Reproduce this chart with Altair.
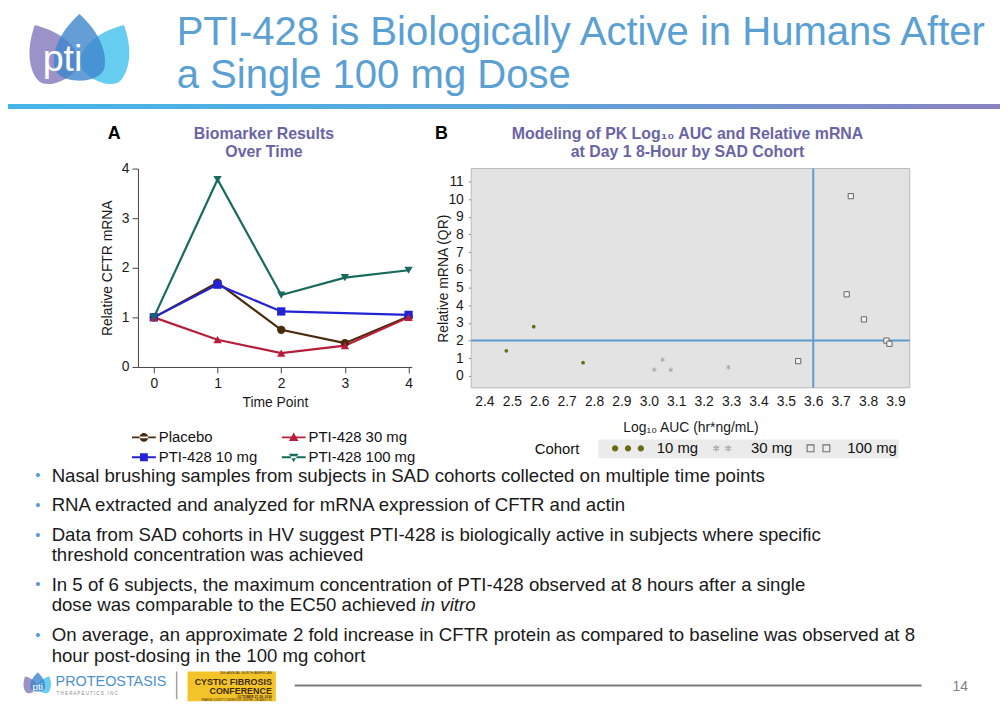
import math
import altair as alt
import pandas as pd

# ------------------------------------------------------------------ data
time_points = [0, 1, 2, 3, 4]
placebo = [1.00, 1.70, 0.75, 0.48, 1.02]
pti428_10mg = [1.00, 1.66, 1.12, None, 1.05]
pti428_30mg = [1.00, 0.55, 0.28, 0.43, 1.00]
pti428_100mg = [1.00, 3.78, 1.45, 1.80, 1.95]
series_names = ["Placebo", "PTI-428 10 mg", "PTI-428 30 mg", "PTI-428 100 mg"]
a_ticks = [0, 1, 2, 3, 4]

cohort_names = ["10 mg", "30 mg", "100 mg"]
auc_10mg = [2.48, 2.58, 2.76]
mrna_10mg = [1.42, 2.79, 0.75]
auc_30mg = [3.02, 3.05, 3.08, 3.29]
mrna_30mg = [0.36, 0.92, 0.34, 0.49]
auc_100mg = [3.545, 3.722, 3.737, 3.785, 3.867, 3.878]
mrna_100mg = [0.84, 4.62, 10.17, 3.20, 2.00, 1.82]
auc_threshold = [3.6]
mrna_threshold = [2.0]
b_x_ticks = [2.4, 2.5, 2.6, 2.7, 2.8, 2.9, 3.0, 3.1, 3.2, 3.3, 3.4, 3.5, 3.6, 3.7, 3.8, 3.9]
b_y_ticks = [0, 1, 2, 3, 4, 5, 6, 7, 8, 9, 10, 11]

title_lines = ["PTI-428 is Biologically Active in Humans After", "a Single 100 mg Dose"]
chart_a_title = ["Biomarker Results", "Over Time"]
chart_b_title = ["Modeling of PK Log\u2081\u2080 AUC and Relative mRNA", "at Day 1 8-Hour by SAD Cohort"]
bullet_points = [
    ["Nasal brushing samples from subjects in SAD cohorts collected on multiple time points"],
    ["RNA extracted and analyzed for mRNA expression of CFTR and actin"],
    ["Data from SAD cohorts in HV suggest PTI-428 is biologically active in subjects where specific",
     "threshold concentration was achieved"],
    ["In 5 of 6 subjects, the maximum concentration of PTI-428 observed at 8 hours after a single",
     "dose was comparable to the EC50 achieved"],
    ["On average, an approximate 2 fold increase in CFTR protein as compared to baseline was observed at 8",
     "hour post-dosing in the 100 mg cohort"],
]
italic_phrase = "in vitro"

# ------------------------------------------------------------------ layout helpers
FONT = "Liberation Sans"
W, H = 1000, 712


def cx(p):
    return p - 8


ONE = pd.DataFrame({"k": [0]})


def text_layer(s, x, y, size=14, color="#111111", weight="normal", align="left",
               baseline="middle", style="normal", angle=None, line_height=None):
    kw = dict(text=s, fontSize=size, color=color, fontWeight=weight, align=align,
              baseline=baseline, fontStyle=style, font=FONT)
    if angle is not None:
        kw["angle"] = angle
    if line_height is not None:
        kw["lineHeight"] = line_height
    return alt.Chart(ONE).mark_text(**kw).encode(x=alt.value(cx(x)), y=alt.value(cx(y)))


def rect_layer(x0, y0, x1, y1, **mk):
    return alt.Chart(ONE).mark_rect(**mk).encode(
        x=alt.value(cx(x0)), x2=alt.value(cx(x1)), y=alt.value(cx(y0)), y2=alt.value(cx(y1)))


def rule_layer(x0, y0, x1, y1, **mk):
    return alt.Chart(ONE).mark_rule(**mk).encode(
        x=alt.value(cx(x0)), x2=alt.value(cx(x1)), y=alt.value(cx(y0)), y2=alt.value(cx(y1)))


PETAL = ("M0,-1C0.42,-0.62 0.72,-0.12 0.66,0.36C0.6,0.86 -0.6,0.86 -0.66,0.36"
         "C-0.72,-0.12 -0.42,-0.62 0,-1Z")


def petal(x, y, size, color, angle=None, opacity=0.85):
    kw = dict(shape=PETAL, filled=True, size=size, color=color, opacity=opacity, strokeWidth=0)
    if angle is not None:
        kw["angle"] = angle
    return alt.Chart(ONE).mark_point(**kw).encode(x=alt.value(cx(x)), y=alt.value(cx(y)))


def circ(x, y, r):
    return f"M{x - r:.3f},{y:.3f}A{r},{r} 0 1,0 {x + r:.3f},{y:.3f}A{r},{r} 0 1,0 {x - r:.3f},{y:.3f}Z"


def bar(xc, yc, ang, L, t):
    a = math.radians(ang)
    dx, dy = math.cos(a), math.sin(a)
    px, py = -dy, dx
    pts = [(xc + L * dx + t * px, yc + L * dy + t * py), (xc + L * dx - t * px, yc + L * dy - t * py),
           (xc - L * dx - t * px, yc - L * dy - t * py), (xc - L * dx + t * px, yc - L * dy + t * py)]
    return "M" + "L".join(f"{p[0]:.3f},{p[1]:.3f}" for p in pts) + "Z"


def ring(xc, yc, h, t):
    outer = f"M{xc - h:.3f},{yc - h:.3f}H{xc + h:.3f}V{yc + h:.3f}H{xc - h:.3f}Z"
    inner = (f"M{xc - h + t:.3f},{yc - h + t:.3f}V{yc + h - t:.3f}H{xc + h - t:.3f}"
             f"V{yc - h + t:.3f}Z")
    return outer + inner


# ------------------------------------------------------------------ header
header = [
    petal(52, 54, 5200, "#8a7fc0", angle=332),
    petal(108, 54, 5200, "#4cc4ef", angle=28),
    petal(80, 50, 6000, "#3f86cc", opacity=0.8),
    text_layer("pti", 63, 58, size=38, color="white", align="center"),
    text_layer(title_lines, 178, 42.5, size=40.4, color="#5aa0d3", baseline="alphabetic", line_height=43.5),
    alt.Chart(ONE).mark_rect(
        color=alt.LinearGradient(gradient="linear",
                                 stops=[alt.GradientStop(color="#45b6e8", offset=0),
                                        alt.GradientStop(color="#5aa6dc", offset=0.5),
                                        alt.GradientStop(color="#8b82c3", offset=1)],
                                 x1=0, x2=1, y1=0, y2=0)
    ).encode(x=alt.value(-8), x2=alt.value(W), y=alt.value(cx(102)), y2=alt.value(cx(107))),
]

# ------------------------------------------------------------------ chart A
A_X0, A_X1, A_Y0, A_Y1 = 139, 415, 167, 367
a_colors = ["#4a2a0c", "#2323d6", "#b81e3a", "#176a5c"]
a_shapes = ["circle", "square", "triangle-up", "triangle-down"]

rows = []
for name, vals in zip(["Placebo", "PTI-428 10 mg", "PTI-428 30 mg", "PTI-428 100 mg"],
                      [placebo, pti428_10mg, pti428_30mg, pti428_100mg]):
    for t, v in zip(time_points, vals):
        if v is not None:
            rows.append({"time": t, "value": v, "series": name})
df_a = pd.DataFrame(rows)

a_x = alt.X("time:Q",
            scale=alt.Scale(domain=[-0.25, 4.05], range=[cx(A_X0), cx(A_X1)], nice=False, zero=False),
            axis=alt.Axis(orient="bottom", offset=cx(A_Y1) - H, values=a_ticks, format="d",
                          title="Time Point", labelFontSize=14, titleFontSize=14,
                          titleFontWeight="normal", labelColor="#1a1a1a", titleColor="#1a1a1a",
                          domainColor="#444444", tickColor="#444444", tickSize=6, labelPadding=4,
                          titlePadding=5, grid=False))
a_y = alt.Y("value:Q",
            scale=alt.Scale(domain=[0, 4], range=[cx(A_Y1), cx(A_Y0)], nice=False, zero=False),
            axis=alt.Axis(orient="left", offset=-cx(A_X0), values=a_ticks, format="d",
                          title="Relative CFTR mRNA", labelFontSize=14, titleFontSize=14,
                          titleFontWeight="normal", labelColor="#1a1a1a", titleColor="#1a1a1a",
                          domainColor="#444444", tickColor="#444444", tickSize=6, labelPadding=3,
                          titlePadding=7, grid=False))
a_color = alt.Color("series:N", scale=alt.Scale(domain=series_names, range=a_colors), legend=None)

a_lines = alt.Chart(df_a).mark_line(strokeWidth=2.2).encode(x=a_x, y=a_y, color=a_color)
a_points = alt.Chart(df_a).mark_point(filled=True, opacity=1, size=70).encode(
    x=a_x, y=a_y, color=a_color,
    shape=alt.Shape("series:N", scale=alt.Scale(domain=series_names, range=a_shapes), legend=None))
chart_a = alt.layer(a_lines, a_points)

LINE = "M-1,-0.08H1V0.08H-1Z"
a_leg_shapes = [LINE + circ(0, 0, 0.36), LINE + "M-0.33,-0.33H0.33V0.33H-0.33Z",
                LINE + "M0,-0.42L0.4,0.3L-0.4,0.3Z", LINE + "M0,0.42L0.4,-0.3L-0.4,-0.3Z"]
a_legend = alt.Legend(orient="none", legendX=cx(133), legendY=cx(426), columns=2, title=None,
                      labelFontSize=15, labelColor="#111111", symbolSize=576, labelOffset=3,
                      columnPadding=24, rowPadding=-5, padding=0, symbolStrokeWidth=0)
a_leg = alt.Chart(pd.DataFrame({"series": series_names})).mark_point(
    filled=True, opacity=1, size=576).encode(
    x=alt.value(-60), y=alt.value(-60),
    color=alt.Color("series:N", scale=alt.Scale(domain=series_names, range=a_colors), legend=a_legend),
    shape=alt.Shape("series:N", scale=alt.Scale(domain=series_names, range=a_leg_shapes), legend=a_legend))

a_text = [
    text_layer("A", 115, 132, size=18, weight="bold", align="center", color="#000000"),
    text_layer(chart_a_title, 266, 137.5, size=16, weight="bold", align="center", color="#6a64a6",
               baseline="alphabetic", line_height=18),
]

# ------------------------------------------------------------------ chart B
B_X0, B_X1, B_Y0, B_Y1 = 475, 917, 167, 388
b_x = alt.X("auc:Q",
            scale=alt.Scale(domain=[2.352, 3.952], range=[cx(B_X0), cx(B_X1)], nice=False, zero=False),
            axis=alt.Axis(orient="bottom", offset=cx(B_Y1) - H, values=b_x_ticks, format=".1f",
                          title="Log\u2081\u2080 AUC (hr*ng/mL)", labelFontSize=14, titleFontSize=14,
                          titleFontWeight="normal", labelColor="#1a1a1a", titleColor="#1a1a1a",
                          domain=False, ticks=False, labelPadding=7, titlePadding=12, grid=False))
b_y = alt.Y("mrna:Q",
            scale=alt.Scale(domain=[-0.67, 11.73], range=[cx(B_Y1), cx(B_Y0)], nice=False, zero=False),
            axis=alt.Axis(orient="left", offset=-cx(B_X0), values=b_y_ticks, format="d",
                          title="Relative mRNA (QR)", labelFontSize=14, titleFontSize=14,
                          titleFontWeight="normal", labelColor="#1a1a1a", titleColor="#1a1a1a",
                          domain=False, tickColor="#888888", tickSize=3, labelPadding=5,
                          titlePadding=-3, grid=False))

b_panel = rect_layer(B_X0, B_Y0, B_X1, B_Y1, fill="#e3e3e3", stroke="#b8b8b8", strokeWidth=1)
b_vrule = alt.Chart(pd.DataFrame({"auc": auc_threshold})).mark_rule(
    color="#5b9bcf", strokeWidth=2).encode(x=b_x, y=alt.value(cx(B_Y0)), y2=alt.value(cx(B_Y1)))
b_hrule = alt.Chart(pd.DataFrame({"mrna": mrna_threshold})).mark_rule(
    color="#5b9bcf", strokeWidth=2).encode(y=b_y, x=alt.value(cx(B_X0)), x2=alt.value(cx(B_X1)))
ASTER = "M0,-1V1M-0.87,-0.5L0.87,0.5M-0.87,0.5L0.87,-0.5"
b_p10 = alt.Chart(pd.DataFrame({"auc": auc_10mg, "mrna": mrna_10mg})).mark_point(
    filled=True, color="#6b6a12", size=14, opacity=1).encode(x=b_x, y=b_y)
b_p30 = alt.Chart(pd.DataFrame({"auc": auc_30mg, "mrna": mrna_30mg})).mark_point(
    shape=ASTER, filled=False, color="#a6a6a6", strokeWidth=1, size=22, opacity=1).encode(x=b_x, y=b_y)
b_p100 = alt.Chart(pd.DataFrame({"auc": auc_100mg, "mrna": mrna_100mg})).mark_point(
    shape="square", filled=True, fill="#f2f2f2", stroke="#666666", strokeWidth=1, size=28,
    opacity=1).encode(x=b_x, y=b_y)
chart_b = alt.layer(b_panel, b_vrule, b_hrule, b_p10, b_p30, b_p100)

# legend symbols: drawn in pixel units, normalised by the half symbol size (8 px)
HS = 8.0
b_leg_shapes = [
    " ".join(circ(x / HS, 0, 3.2 / HS) for x in (-13.0, 0.0, 13.0)),
    " ".join(bar(c / HS, 0, ang, 3.4 / HS, 0.6 / HS) for c in (-6.0, 6.0) for ang in (90, 30, 150)),
    ring(-8.0 / HS, 0, 4.0 / HS, 1.1 / HS) + ring(8.0 / HS, 0, 4.0 / HS, 1.1 / HS),
]
b_leg_colors = ["#6b6a12", "#a9a9a9", "#6f6f6f"]
b_legend = alt.Legend(orient="none", legendX=cx(625), legendY=cx(441), direction="horizontal",
                      title=None, labelFontSize=15, labelColor="#111111", symbolSize=256,
                      labelOffset=21, columnPadding=14, padding=0, symbolStrokeWidth=0)
b_leg = alt.Chart(pd.DataFrame({"cohort": cohort_names})).mark_point(
    filled=True, opacity=1, size=256).encode(
    x=alt.value(-60), y=alt.value(-60),
    color=alt.Color("cohort:N", scale=alt.Scale(domain=cohort_names, range=b_leg_colors), legend=b_legend),
    shape=alt.Shape("cohort:N", scale=alt.Scale(domain=cohort_names, range=b_leg_shapes), legend=b_legend))

b_text = [
    text_layer("B", 445, 132, size=18, weight="bold", align="center", color="#000000"),
    text_layer(chart_b_title, 693, 137.5, size=16, weight="bold", align="center", color="#6a64a6",
               baseline="alphabetic", line_height=18),
    rect_layer(603, 440, 906, 459, fill="#ebebeb"),
    text_layer("Cohort", 539, 450, size=15),
]

# ------------------------------------------------------------------ bullets
BUL_SIZE, BUL_LH = 18.8, 20.5
bullet_y = [476, 506, 536, 586, 637]
bullets = []
for lines, yc in zip(bullet_points, bullet_y):
    bullets.append(text_layer("\u2022", 38, yc, size=15, color="#5a9bd5", align="center"))
    bullets.append(text_layer(lines, 52, yc + 6.5, size=BUL_SIZE, color="#1a1a1a",
                              baseline="alphabetic", line_height=BUL_LH))
bullets.append(text_layer(italic_phrase, 424, 586 + BUL_LH + 6.5, size=BUL_SIZE, color="#1a1a1a",
                          baseline="alphabetic", style="italic"))

# ------------------------------------------------------------------ footer
footer = [
    petal(30, 688, 420, "#8a7fc0", angle=332),
    petal(45, 688, 420, "#4cc4ef", angle=28),
    petal(38, 686, 500, "#3f86cc", opacity=0.8),
    text_layer("pti", 38, 690, size=10, color="white", align="center"),
    text_layer("PROTEOSTASIS", 56, 685, size=14.5, color="#4b92cf"),
    text_layer("T H E R A P E U T I C S ,   I N C .", 57, 697, size=4.5, color="#8a8a8a"),
    rule_layer(178, 674, 178, 702, color="#a0a0a0", strokeWidth=1.5),
    rect_layer(189, 674, 278, 704, fill="#f3c42a"),
    text_layer("30th ANNUAL NORTH AMERICAN", 274, 676, size=3.4, color="#3d2b14", align="right"),
    text_layer("CYSTIC FIBROSIS", 274, 684.3, size=9, weight="bold", color="#3d2b14", align="right"),
    text_layer("CONFERENCE", 274, 693.5, size=9, weight="bold", color="#3d2b14", align="right"),
    text_layer("OCTOBER 27-29, 2016", 274, 699.9, size=3.3, weight="bold", color="#3d2b14", align="right"),
    text_layer("ORANGE COUNTY CONVENTION CENTER  |  ORLANDO, FL", 274, 703, size=2.6, color="#3d2b14",
               align="right"),
    rule_layer(297, 688, 929, 688, color="#7c7c7c", strokeWidth=2),
    text_layer("14", 968, 690, size=14, color="#808080", align="center"),
]

layers = header + [chart_a, a_leg] + a_text + [chart_b] + b_text + [b_leg] + bullets + footer

chart = alt.layer(*layers).resolve_scale(
    x="independent", y="independent", color="independent", shape="independent"
).resolve_axis(x="independent", y="independent").resolve_legend(
    color="independent", shape="independent"
).properties(
    width=W, height=H, padding=0, autosize=alt.AutoSizeParams(type="none"), background="white"
).configure(font=FONT).configure_view(stroke=None)

chart.save("out.html", embed_options={"renderer": "svg", "actions": False})
